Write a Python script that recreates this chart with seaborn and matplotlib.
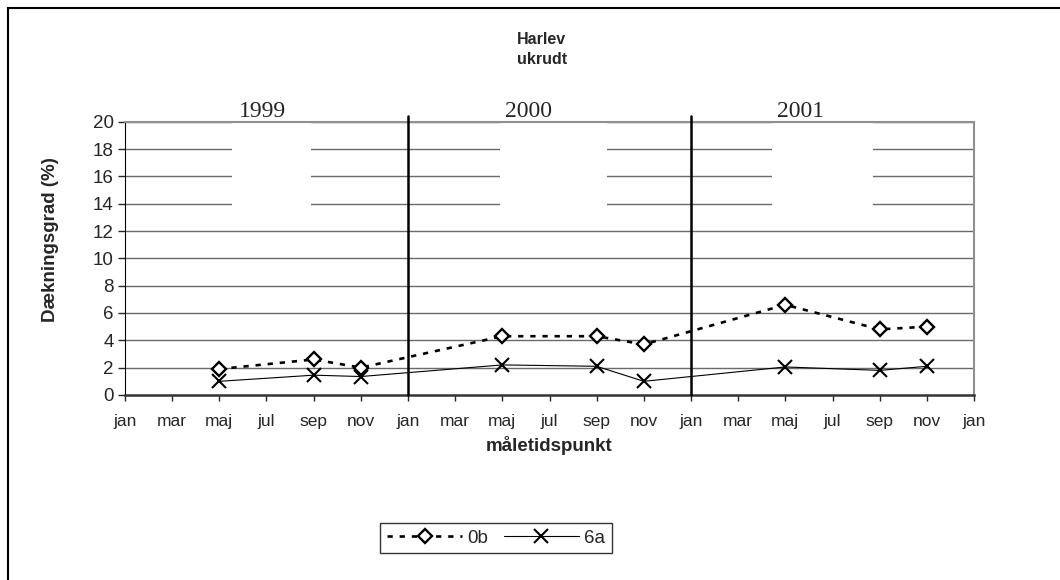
import numpy as np
import pandas as pd
import seaborn as sns
import matplotlib.pyplot as plt
from matplotlib.patches import Rectangle

# months counted from jan 1999
months = [4, 8, 10, 16, 20, 22, 28, 32, 34]
ob_vals = [1.9, 2.6, 2.0, 4.3, 4.3, 3.7, 6.6, 4.8, 5.0]
sa_vals = [1.0, 1.45, 1.35, 2.2, 2.1, 1.0, 2.05, 1.8, 2.1]
tick_pos = list(range(0, 37, 2))
tick_labels = ['jan', 'mar', 'maj', 'jul', 'sep', 'nov'] * 3 + ['jan']
years = ['1999', '2000', '2001']
year_x = [5.84, 17.1, 28.64]
year_box = [(4.54, 7.89), (15.91, 20.45), (27.45, 31.73)]
year_breaks = [12, 24]

sns.set_style('white')
plt.rcParams['font.family'] = ['Liberation Sans', 'DejaVu Sans']

df = pd.DataFrame({'month': months * 2,
                   'value': ob_vals + sa_vals,
                   'serie': ['0b'] * len(months) + ['6a'] * len(months)})

fig = plt.figure(figsize=(10.6, 5.8), dpi=100)
ax = fig.add_axes([0.1179, 0.319, 0.801, 0.4712])

for y in range(2, 21, 2):
    ax.axhline(y, color='#6a6a6a', lw=1, zorder=1)

for x in year_breaks:
    ax.axvline(x, ymin=0, ymax=1.022, color='black', lw=1.8, zorder=3, clip_on=False)

for (x0, x1), lab, xc in zip(year_box, years, year_x):
    ax.add_patch(Rectangle((x0, 13), x1 - x0, 8.5, facecolor='white', edgecolor='none',
                           zorder=2, clip_on=False))
    ax.text(xc, 20.72, lab, ha='center', va='center', fontsize=17,
            family='Liberation Serif', zorder=4, clip_on=False)

sns.lineplot(data=df[df.serie == '0b'], x='month', y='value', ax=ax, color='black',
             lw=1.9, linestyle=(0, (2.0, 2.6)), marker='D', markersize=6.8,
             markerfacecolor='white', markeredgecolor='black', markeredgewidth=1.7,
             label='0b', zorder=5)
sns.lineplot(data=df[df.serie == '6a'], x='month', y='value', ax=ax, color='black',
             lw=0.8, marker='x', markersize=9.5, markeredgewidth=1.5,
             markeredgecolor='black', markerfacecolor='black',
             label='6a', zorder=5)

ax.set_xlim(0, 36)
ax.set_ylim(0, 20)
ax.set_xticks(tick_pos)
ax.set_xticklabels(tick_labels, fontsize=12.5)
ax.set_yticks(range(0, 21, 2))
ax.tick_params(axis='y', labelsize=13.5, length=5, width=1, direction='out', left=True, pad=3)
ax.tick_params(axis='x', length=4.5, width=1, direction='out', bottom=True, pad=9)

for s in ['top', 'right']:
    ax.spines[s].set_color('#909090')
    ax.spines[s].set_linewidth(1.5)
ax.spines['left'].set_color('black')
ax.spines['bottom'].set_color('#333333')
ax.spines['bottom'].set_linewidth(1.8)

ax.set_xlabel('måletidspunkt', fontsize=13.5, fontweight='bold', va='center')
ax.xaxis.set_label_coords(0.5, -0.185)
ax.set_ylabel('Dækningsgrad (%)', fontsize=13.5, fontweight='bold', va='center')
ax.yaxis.set_label_coords(-0.088, 0.567)

fig.text(0.511, 0.915, 'Harlev\nukrudt', ha='center', va='center', fontsize=11.5,
         fontweight='bold', linespacing=1.45)

leg = ax.legend(loc='center', bbox_to_anchor=(0.468, 0.0724), bbox_transform=fig.transFigure,
                ncol=2, frameon=True, fontsize=13.5, handlelength=4, columnspacing=0.8,
                handletextpad=0.3, borderpad=0.35, fancybox=False)
leg.get_frame().set_edgecolor('black')
leg.get_frame().set_linewidth(1)

fig.patches.append(Rectangle((8 / 1060, -0.1), 1.2, 1.1 - 8 / 580, transform=fig.transFigure,
                             fill=False, edgecolor='black', lw=1.5))

fig.savefig('out.png', dpi=100)
